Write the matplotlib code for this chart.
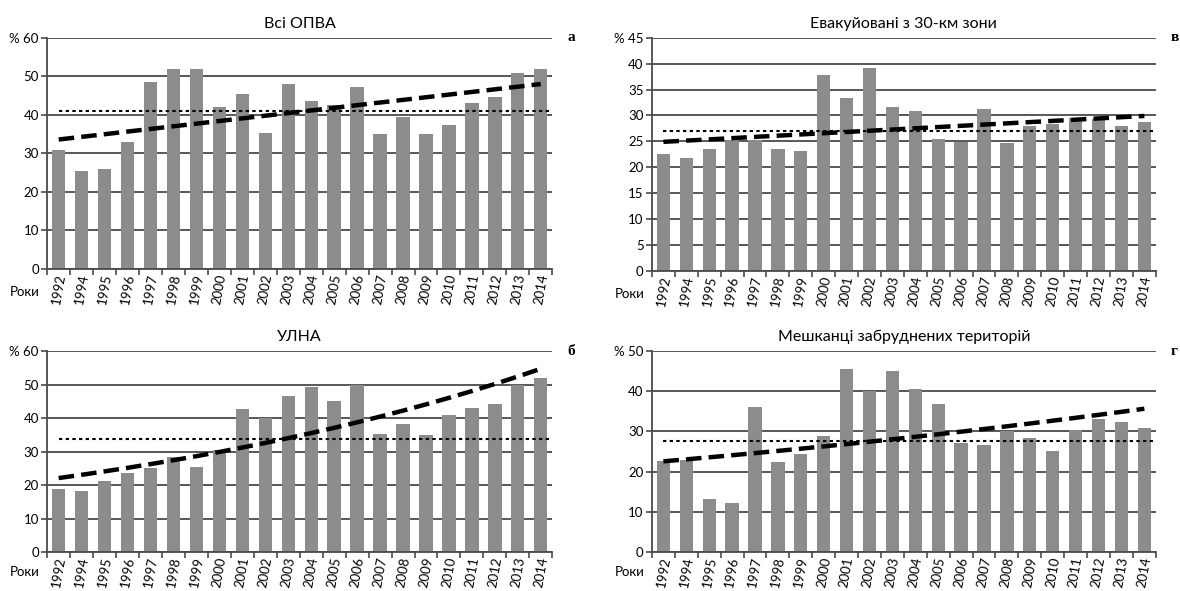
import numpy as np
import matplotlib
matplotlib.use('Agg')
import matplotlib.pyplot as plt

plt.rcParams['font.family'] = ['Lato', 'DejaVu Sans']

years = ['1992', '1994', '1995', '1996', '1997', '1998', '1999', '2000', '2001', '2002', '2003',
         '2004', '2005', '2006', '2007', '2008', '2009', '2010', '2011', '2012', '2013', '2014']

# share of persons, % by year
all_opva = [31.0, 25.5, 26.0, 33.0, 48.5, 52.0, 51.8, 42.0, 45.3, 35.2, 48.0,
            43.5, 42.5, 47.3, 35.0, 39.5, 35.0, 37.3, 43.2, 44.7, 50.8, 51.8]
ulna = [18.8, 18.3, 21.2, 23.5, 25.0, 28.5, 25.5, 30.5, 42.8, 40.0, 46.5,
        49.2, 45.0, 50.0, 35.2, 38.3, 34.8, 41.0, 43.0, 44.3, 50.0, 52.0]
evacuated = [22.6, 21.8, 23.6, 25.3, 25.3, 23.6, 23.2, 37.8, 33.4, 39.1, 31.6,
             30.9, 25.4, 24.9, 31.3, 24.7, 28.0, 28.4, 29.6, 29.4, 28.0, 28.8]
residents = [22.6, 22.8, 13.3, 12.2, 36.0, 22.5, 24.5, 28.8, 45.6, 40.0, 45.1,
             40.6, 36.8, 27.0, 26.5, 30.2, 28.3, 25.1, 30.3, 33.2, 32.4, 30.9]

# reference (average) levels drawn as dotted lines
ref_levels = {'a': 41.0, 'b': 33.8, 'v': 26.9, 'g': 27.5}

# linear trends: value at 1992 and at 2014
trend_ends = {'a': (33.6, 48.0), 'v': (24.9, 29.9)}

panels = [
    # key, title, values, y max, y step, corner letter, axes rect
    ('a', 'Всі ОПВА', all_opva, 60, 10, 'а', [0.040, 0.545, 0.428, 0.391]),
    ('v', 'Евакуйовані з 30-км зони', evacuated, 45, 5, 'в', [0.5525, 0.542, 0.427, 0.394]),
    ('b', 'УЛНА', ulna, 60, 10, 'б', [0.040, 0.066, 0.428, 0.340]),
    ('g', 'Мешканці забруднених територій', residents, 50, 10, 'г', [0.5525, 0.066, 0.427, 0.340]),
]

grid_col = '#4a4a4a'
bar_col = '#8c8c8c'

fig = plt.figure(figsize=(11.8, 5.91), dpi=100)

for key, title, vals, ymax, ystep, letter, rect in panels:
    ax = fig.add_axes(rect)
    x = np.arange(len(years))
    y = np.array(vals)

    ax.bar(x, y, width=0.58, color=bar_col, zorder=2)

    # trend line: straight between the end values, or exponential fit to the bars
    if key in trend_ends:
        tx, ty = [x[0], x[-1]], trend_ends[key]
    else:
        k, b = np.polyfit(x, np.log(y), 1)
        tx, ty = x, np.exp(k * x + b)
    ax.plot(tx, ty, color='black', lw=3.2, ls=(0, (3.5, 1.6)), zorder=4)

    ax.hlines(ref_levels[key], 0, len(years) - 0.55, color='black', lw=1.5,
              linestyles=(0, (1.6, 1.6)), zorder=3)

    ax.set_xlim(-0.5, len(years) - 0.5)
    ax.set_ylim(0, ymax)
    yt = np.arange(0, ymax + 1, ystep)
    ax.set_yticks(yt)
    ylabels = [str(v) for v in yt]
    ylabels[-1] = '% ' + ylabels[-1]
    ax.set_yticklabels(ylabels, fontsize=9.5)
    ax.yaxis.grid(True, color=grid_col, lw=1.3, zorder=1)

    ax.set_xticks(x)
    ax.set_xticklabels(years, rotation=80, fontsize=9.5)
    ax.set_xticks(np.arange(-0.5, len(years)), minor=True)
    ax.tick_params(axis='x', which='major', length=0, pad=3)
    ax.tick_params(axis='x', which='minor', length=4, color=grid_col, width=1.2)
    ax.tick_params(axis='y', length=4, color=grid_col, width=1.2, pad=2)

    for s in ('top', 'right'):
        ax.spines[s].set_visible(False)
    for s in ('left', 'bottom'):
        ax.spines[s].set_color(grid_col)
        ax.spines[s].set_linewidth(1.3)

    ax.set_title(title, fontsize=11.5, pad=7)
    ax.text(-0.045, -0.1, 'Роки', transform=ax.transAxes, fontsize=9.5,
            ha='center', va='center')
    ax.text(1.037, 1.0, letter, transform=ax.transAxes, fontsize=11,
            fontweight='bold', family='Liberation Serif', ha='center', va='center')

fig.savefig('out.png', dpi=100)
